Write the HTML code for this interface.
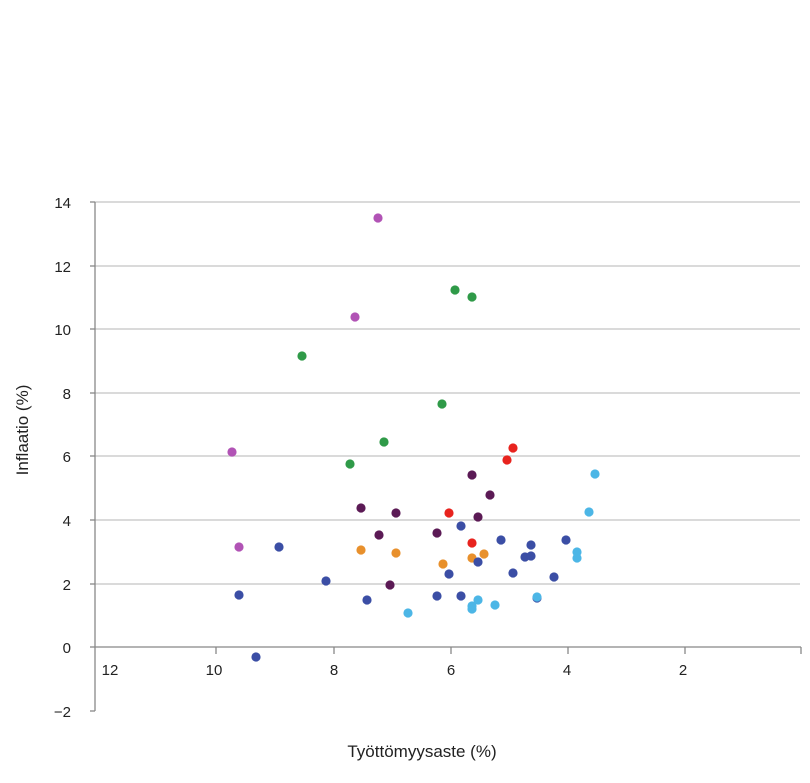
<!DOCTYPE html>
<html><head><meta charset="utf-8"><style>body{margin:0;background:#fff}svg{display:block}</style></head><body>
<svg width="810" height="783" xmlns="http://www.w3.org/2000/svg" font-family="Liberation Sans, sans-serif">
<g stroke="#c4c4c4" stroke-width="1.3">
<line x1="95" y1="202" x2="800" y2="202"/><line x1="95" y1="266" x2="800" y2="266"/><line x1="95" y1="329" x2="800" y2="329"/><line x1="95" y1="393" x2="800" y2="393"/><line x1="95" y1="456" x2="800" y2="456"/><line x1="95" y1="520" x2="800" y2="520"/><line x1="95" y1="584" x2="800" y2="584"/>
</g>
<g stroke="#888" stroke-width="1.3">
<line x1="95" y1="202" x2="95" y2="711"/>
<line x1="95" y1="647" x2="801" y2="647"/>
<line x1="90" y1="202" x2="95" y2="202"/><line x1="90" y1="266" x2="95" y2="266"/><line x1="90" y1="329" x2="95" y2="329"/><line x1="90" y1="393" x2="95" y2="393"/><line x1="90" y1="456" x2="95" y2="456"/><line x1="90" y1="520" x2="95" y2="520"/><line x1="90" y1="584" x2="95" y2="584"/><line x1="90" y1="647" x2="95" y2="647"/><line x1="90" y1="711" x2="95" y2="711"/>
<line x1="216" y1="647" x2="216" y2="654"/><line x1="334" y1="647" x2="334" y2="654"/><line x1="451" y1="647" x2="451" y2="654"/><line x1="568" y1="647" x2="568" y2="654"/><line x1="685" y1="647" x2="685" y2="654"/><line x1="801" y1="647" x2="801" y2="654"/>
</g>
<g font-size="15" fill="#222" text-anchor="end">
<text x="71" y="208">14</text><text x="71" y="272">12</text><text x="71" y="335">10</text><text x="71" y="399">8</text><text x="71" y="462">6</text><text x="71" y="526">4</text><text x="71" y="590">2</text><text x="71" y="653">0</text><text x="71" y="717">−2</text>
</g>
<g font-size="15" fill="#222" text-anchor="middle">
<text x="110" y="675">12</text><text x="214" y="675">10</text><text x="334" y="675">8</text><text x="451" y="675">6</text><text x="567" y="675">4</text><text x="683" y="675">2</text>
</g>
<text x="422" y="757" font-size="17" fill="#222" text-anchor="middle">Työttömyysaste (%)</text>
<text transform="translate(28,430) rotate(-90)" font-size="17" fill="#222" text-anchor="middle">Inflaatio (%)</text>
<g fill="#b153b5"><circle cx="378" cy="218" r="4.6"/><circle cx="355" cy="317" r="4.6"/><circle cx="232" cy="452" r="4.6"/><circle cx="239" cy="547" r="4.6"/></g>
<g fill="#2f9a48"><circle cx="455" cy="290" r="4.6"/><circle cx="472" cy="297" r="4.6"/><circle cx="302" cy="356" r="4.6"/><circle cx="442" cy="404" r="4.6"/><circle cx="384" cy="442" r="4.6"/><circle cx="350" cy="464" r="4.6"/></g>
<g fill="#e8231e"><circle cx="513" cy="448" r="4.6"/><circle cx="507" cy="460" r="4.6"/><circle cx="449" cy="513" r="4.6"/><circle cx="472" cy="543" r="4.6"/></g>
<g fill="#5b1a55"><circle cx="472" cy="475" r="4.6"/><circle cx="490" cy="495" r="4.6"/><circle cx="361" cy="508" r="4.6"/><circle cx="396" cy="513" r="4.6"/><circle cx="478" cy="517" r="4.6"/><circle cx="379" cy="535" r="4.6"/><circle cx="437" cy="533" r="4.6"/><circle cx="390" cy="585" r="4.6"/></g>
<g fill="#e8902c"><circle cx="361" cy="550" r="4.6"/><circle cx="396" cy="553" r="4.6"/><circle cx="443" cy="564" r="4.6"/><circle cx="472" cy="558" r="4.6"/><circle cx="484" cy="554" r="4.6"/></g>
<g fill="#3b4ea5"><circle cx="461" cy="526" r="4.6"/><circle cx="501" cy="540" r="4.6"/><circle cx="531" cy="545" r="4.6"/><circle cx="525" cy="557" r="4.6"/><circle cx="531" cy="556" r="4.6"/><circle cx="478" cy="562" r="4.6"/><circle cx="449" cy="574" r="4.6"/><circle cx="513" cy="573" r="4.6"/><circle cx="554" cy="577" r="4.6"/><circle cx="566" cy="540" r="4.6"/><circle cx="279" cy="547" r="4.6"/><circle cx="326" cy="581" r="4.6"/><circle cx="239" cy="595" r="4.6"/><circle cx="367" cy="600" r="4.6"/><circle cx="437" cy="596" r="4.6"/><circle cx="461" cy="596" r="4.6"/><circle cx="537" cy="598" r="4.6"/><circle cx="256" cy="657" r="4.6"/></g>
<g fill="#4cb6e6"><circle cx="595" cy="474" r="4.6"/><circle cx="589" cy="512" r="4.6"/><circle cx="577" cy="552" r="4.6"/><circle cx="577" cy="558" r="4.6"/><circle cx="408" cy="613" r="4.6"/><circle cx="478" cy="600" r="4.6"/><circle cx="495" cy="605" r="4.6"/><circle cx="472" cy="606" r="4.6"/><circle cx="472" cy="609" r="4.6"/><circle cx="537" cy="597" r="4.6"/></g>
</svg>
</body></html>
